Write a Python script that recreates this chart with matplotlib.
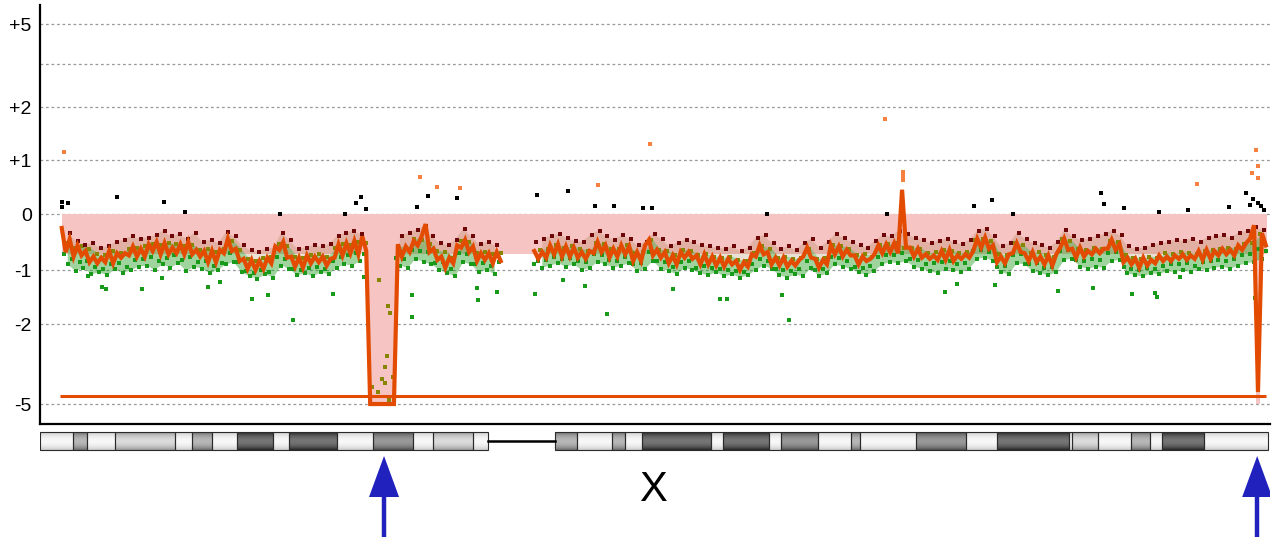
import numpy as np
import matplotlib
matplotlib.use('Agg')
import matplotlib.pyplot as plt
from matplotlib.patches import Rectangle

plt.rcParams['font.family'] = ['Liberation Sans', 'DejaVu Sans']
nan = np.nan

# chromosome X, positions in Mb
chrom_len = 155.27
view_end = 155.52

# smoothed log-ratio trace in 0.5 Mb bins, p arm and q arm
bin_mb = 0.5
p_start = 2.75
p_trace = [-0.25, -0.68, -0.45,
           -0.76, -0.56, -0.74, -0.66, -0.86,
           -0.76, -0.88, -0.78, -0.86,
           -0.66, -0.88, -0.70, -0.78, -0.70,
           -0.74, -0.58, -0.76, -0.62,
           -0.76, -0.54,
           -0.66, -0.50, -0.72, -0.52, -0.72, -0.60,
           -0.70, -0.54, -0.72, -0.50, -0.72,
           -0.64, -0.76, -0.66,
           -0.86, -0.66, -0.86, -0.64,
           -0.70, -0.44, -0.66,
           -0.62, -0.84,
           -0.80, -0.98, -0.82, -1.00, -0.84, -0.98, -0.78,
           -0.88,
           -0.58, -0.64, -0.50, -0.78,
           -0.76, -0.94, -0.78, -0.96, -0.74,
           -0.88, -0.76, -0.86, -0.76, -0.92,
           -0.80,
           -0.78, -0.54, -0.74, -0.52, -0.70,
           -0.48, -0.72, -0.40, -0.66,
           -5.0, -5.0, -5.0, -5.0, -5.0, -5.0, -5.0,
           -0.54, -0.76, -0.58, -0.68,
           -0.48, -0.56, -0.40, -0.18, -0.68,
           -0.62, -0.82,
           -0.76, -0.96, -0.78, -0.88,
           -0.56, -0.60, -0.46, -0.68, -0.58,
           -0.84, -0.70, -0.82, -0.70, -0.88, -0.68, -0.84]
q_start = 62.5
q_trace = [-0.66, -0.80, -0.68, -0.78,
           -0.56, -0.72, -0.54,
           -0.76, -0.58, -0.76, -0.60, -0.78,
           -0.68, -0.80, -0.66,
           -0.70, -0.50, -0.68, -0.56,
           -0.78, -0.62, -0.76,
           -0.56, -0.72, -0.58,
           -0.84, -0.68, -0.84,
           -0.56, -0.46,
           -0.74, -0.64, -0.78, -0.68,
           -0.88, -0.74, -0.90,
           -0.68, -0.78, -0.68, -0.80,
           -0.74, -0.90, -0.72, -0.90, -0.76,
           -0.92, -0.78, -0.94, -0.80, -0.90,
           -0.84, -1.00, -0.86, -0.94,
           -0.72,
           -0.76, -0.56, -0.72, -0.68,
           -0.90, -0.78, -0.92, -0.78, -0.94,
           -0.84, -0.92, -0.82,
           -0.76, -0.60, -0.78,
           -0.80, -0.96, -0.82, -0.90,
           -0.56, -0.72, -0.58,
           -0.76, -0.64, -0.74,
           -0.74, -0.90, -0.76, -0.84, -0.80,
           -0.72, -0.56, -0.70, -0.54,
           -0.68, -0.52, -0.70,
           0.45, -0.60,
           -0.60, -0.76, -0.62, -0.78,
           -0.72, -0.80, -0.74, -0.82,
           -0.66, -0.82, -0.64,
           -0.84, -0.74, -0.80, -0.72, -0.78,
           -0.66, -0.44, -0.60, -0.42, -0.62, -0.56,
           -0.86, -0.76, -0.88, -0.72,
           -0.70, -0.52, -0.68,
           -0.70, -0.84, -0.68, -0.86,
           -0.76, -0.90, -0.74, -0.92, -0.72,
           -0.60, -0.44, -0.64,
           -0.62, -0.78, -0.60, -0.76, -0.66,
           -0.72, -0.62, -0.70, -0.62,
           -0.62, -0.46, -0.64, -0.54,
           -0.86, -0.78,
           -0.90, -0.80, -0.96, -0.78, -0.92, -0.82, -0.88,
           -0.74, -0.84, -0.76, -0.84, -0.74,
           -0.80, -0.72, -0.82, -0.74, -0.80,
           -0.66, -0.82, -0.64, -0.80, -0.66,
           -0.74, -0.62, -0.72, -0.64, -0.74,
           -0.56, -0.64, -0.52, -0.44,
           -0.20,
           -4.55,
           -0.34, -0.56]

# called segments (pink area between 0 and segment value)
seg_start = [2.75, 41.5, 45.0, 153.75, 154.25]
seg_end = [41.5, 45.0, 153.75, 154.25, 155.1]
seg_value = [-0.71, -5.0, -0.71, -5.0, -0.71]
threshold = -4.7

# probe values on a 1 Mb grid (3..155 Mb), four probe groups offset inside each Mb
grid_first = 3
green_a = [-0.72, -0.80, -0.86, -0.84, -0.95, -0.98, -0.90, -0.88, -0.94, -0.82,
           -0.80, -0.76, -0.84, -0.78, -0.74, -0.82, -0.76, -0.86, -0.84, -0.92,
           -0.88, -0.70, -0.86, -1.02, -1.05, -1.00, -1.04, -0.76, -0.80, -0.98,
           -1.00, -0.96, -0.94, -0.98, -0.84, -0.76, -0.74, -0.70, -0.72, nan,
           nan, nan, -0.78, -0.80, -0.64, -0.66, -0.68, -0.88, -0.86, -0.98,
           -0.70, -0.72, -0.90, -0.88, -0.92, -0.86, nan, nan, nan, nan,
           -0.84, -0.82, -0.76, -0.80, -0.78, -0.84, -0.86, -0.72, -0.74, -0.82,
           -0.84, -0.76, -0.90, -0.88, -0.68, -0.84, -0.86, -0.94, -0.86, -0.84,
           -0.96, -0.92, -0.96, -0.98, -1.00, -1.02, -1.04, -0.90, -0.80, -0.84,
           -0.98, -1.00, -1.02, -0.98, -0.84, -1.00, -0.98, -0.76, -0.78, -0.84,
           -0.94, -0.96, -0.92, -0.76, -0.74, -0.74, -0.70, -0.80, -0.82, -0.90,
           -0.88, -0.86, -0.84, -0.90, -0.88, -0.66, -0.64, -0.68, -0.94, -0.92,
           -0.74, -0.72, -0.90, -0.88, -0.96, -0.94, -0.66, -0.64, -0.82, -0.84,
           -0.80, -0.82, -0.70, -0.68, -0.94, -0.98, -1.00, -0.96, -0.98, -0.92,
           -0.90, -0.90, -0.88, -0.92, -0.86, -0.84, -0.82, -0.84, -0.80, -0.74,
           -0.72, -0.62, -0.66]
green_b = [-0.90, -1.02, -0.96, -1.08, -1.04, -1.10, -0.98, -1.06, -1.00, -0.94,
           -0.92, -1.00, -0.90, -0.96, -0.88, -1.02, -0.94, -0.98, -1.06, -1.00,
           -0.90, -0.86, -1.04, -1.12, -1.16, -1.08, -1.14, -0.92, -0.98, -1.10,
           -1.06, -1.12, -1.04, -1.08, -0.96, -0.90, -0.92, -0.84, nan, nan,
           nan, nan, -0.92, -0.96, -0.80, -0.86, -0.90, -1.00, -1.06, -1.12,
           -0.86, -0.90, -1.04, -1.00, -1.08, nan, nan, nan, nan, -0.90,
           -0.96, -0.92, -0.88, -0.94, -0.90, -1.00, -0.96, -0.86, -0.90, -0.96,
           -0.92, -0.88, -1.02, -0.98, -0.84, -0.98, -1.02, -1.08, -0.96, -1.00,
           -1.06, -1.10, -1.04, -1.12, -1.08, -1.14, -1.10, -1.00, -0.92, -0.98,
           -1.10, -1.14, -1.08, -1.12, -0.96, -1.12, -1.06, -0.90, -0.94, -0.98,
           -1.04, -1.10, -1.02, -0.90, -0.86, -0.88, -0.84, -0.94, -0.98, -1.02,
           -1.06, -0.98, -1.00, -1.04, -0.98, -0.80, -0.78, -0.84, -1.04, -1.08,
           -0.88, -0.90, -1.02, -1.06, -1.10, -1.04, -0.82, -0.80, -0.94, -0.98,
           -0.94, -0.96, -0.84, -0.82, -1.06, -1.10, -1.12, -1.06, -1.08, -1.02,
           -1.04, -1.00, -1.04, -0.98, -1.00, -0.96, -0.94, -0.98, -0.92, -0.88,
           -0.86, -0.80, nan]
olive = [-0.52, -0.60, -0.58, -0.62, -0.72, -0.74, -0.66, -0.70, -0.62, -0.60,
         -0.58, -0.54, -0.56, -0.52, -0.54, -0.58, -0.56, -0.64, -0.62, -0.68,
         -0.62, -0.48, -0.64, -0.80, -0.84, -0.78, -0.76, -0.54, -0.58, -0.76,
         -0.78, -0.74, -0.72, -0.76, -0.60, -0.54, -0.56, -0.50, -0.52, nan,
         nan, nan, -0.58, -0.60, -0.44, -0.46, -0.54, -0.66, -0.68, -0.78,
         -0.48, -0.50, -0.70, -0.68, -0.72, -0.70, nan, nan, nan, nan,
         -0.64, -0.62, -0.56, -0.60, -0.58, -0.62, -0.66, -0.52, -0.54, -0.62,
         -0.62, -0.56, -0.70, -0.68, -0.46, -0.64, -0.66, -0.74, -0.64, -0.66,
         -0.74, -0.72, -0.76, -0.78, -0.76, -0.82, -0.84, -0.70, -0.58, -0.62,
         -0.78, -0.76, -0.80, -0.78, -0.62, -0.80, -0.78, -0.56, -0.58, -0.62,
         -0.74, -0.72, -0.76, -0.56, -0.54, -0.52, -0.60, -0.60, -0.62, -0.70,
         -0.68, -0.64, -0.66, -0.70, -0.68, -0.46, -0.44, -0.48, -0.72, -0.74,
         -0.52, -0.56, -0.70, -0.68, -0.74, -0.76, -0.44, -0.48, -0.62, -0.64,
         -0.60, -0.62, -0.48, -0.50, -0.74, -0.78, -0.80, -0.76, -0.78, -0.70,
         -0.72, -0.68, -0.70, -0.72, -0.66, -0.64, -0.62, -0.60, -0.62, -0.54,
         -0.52, -0.36, nan]
maroon = [-0.34, -0.48, -0.56, -0.52, -0.60, -0.58, -0.50, -0.46, -0.40, -0.44,
          -0.42, -0.38, -0.30, -0.40, -0.36, -0.44, -0.34, -0.50, -0.46, -0.52,
          -0.32, -0.40, -0.56, -0.64, -0.68, -0.62, -0.60, -0.34, -0.46, -0.62,
          -0.60, -0.56, -0.58, -0.54, -0.40, -0.34, -0.30, -0.36, nan, nan,
          nan, nan, -0.40, -0.34, -0.28, -0.22, -0.40, -0.52, -0.56, -0.46,
          -0.26, -0.40, -0.54, -0.50, -0.56, nan, nan, nan, nan, -0.50,
          -0.44, -0.40, -0.36, -0.42, -0.48, -0.50, -0.38, -0.30, -0.40, -0.46,
          -0.38, -0.44, -0.56, -0.50, -0.36, -0.44, -0.58, -0.52, -0.46, -0.50,
          -0.56, -0.58, -0.60, -0.62, -0.58, -0.66, -0.60, -0.42, -0.38, -0.52,
          -0.62, -0.58, -0.64, -0.52, -0.44, -0.60, -0.50, -0.36, -0.42, -0.50,
          -0.56, -0.60, -0.48, -0.38, -0.40, -0.30, -0.36, -0.42, -0.46, -0.52,
          -0.48, -0.44, -0.50, -0.54, -0.46, -0.30, -0.26, -0.40, -0.58, -0.52,
          -0.34, -0.44, -0.52, -0.56, -0.60, -0.50, -0.28, -0.40, -0.46, -0.44,
          -0.40, -0.36, -0.30, -0.38, -0.58, -0.62, -0.60, -0.56, -0.52, -0.50,
          -0.46, -0.48, -0.44, -0.50, -0.42, -0.40, -0.38, -0.42, -0.34, -0.30,
          -0.24, -0.28, nan]

# single probes off the main cloud
green_out_x = [6.07, 7.84, 8.34, 12.9, 15.4, 21.2, 22.8, 26.8, 28.8, 32.0, 37.0, 41.0,
               47.0, 47.0, 55.3, 55.4, 57.8, 62.6, 66.1, 68.9, 71.7, 80.0, 86.0, 86.9,
               93.8, 94.7, 114.4, 116.0, 120.7, 128.7, 133.1, 138.1, 141.0, 141.2, 144.1, 153.6]
green_out_y = [-1.11, -1.31, -1.35, -1.35, -1.15, -1.31, -1.22, -1.54, -1.46, -1.93, -1.44, -1.13,
               -1.87, -1.46, -1.33, -1.56, -1.41, -1.44, -1.19, -1.30, -1.81, -1.35, -1.54, -1.53,
               -1.46, -1.93, -1.41, -1.26, -1.28, -1.39, -1.33, -1.44, -1.43, -1.50, -1.13, -1.51]
olive_del_x = [42.9, 44.0, 44.25, 43.87, 43.6, 44.63, 43.24, 43.62, 42.74, 44.1, 41.98]
olive_del_y = [-1.19, -1.67, -1.80, -3.2, -3.6, -4.0, -4.06, -4.2, -4.54, -4.85, -4.35]
black_x = [2.78, 2.78, 3.54, 9.74, 15.68, 18.33, 30.35, 38.56, 39.96, 40.59, 41.22, 47.67,
           49.06, 52.73, 62.84, 66.76, 70.17, 72.58, 76.25, 77.38, 91.92, 107.09, 118.10,
           120.37, 123.03, 134.16, 134.54, 137.06, 141.49, 145.16, 150.34, 152.49, 153.0,
           153.38, 154.01, 154.39, 154.77]
black_y = [0.22, 0.13, 0.20, 0.31, 0.22, 0.04, 0.0, 0.0, 0.20, 0.31, 0.09, 0.13,
           0.33, 0.30, 0.35, 0.43, 0.15, 0.15, 0.11, 0.11, 0.0, 0.0, 0.15,
           0.26, 0.0, 0.39, 0.19, 0.11, 0.04, 0.07, 0.13, 0.39, 0.17,
           0.28, 0.20, 0.15, 0.07]
high_x = [3.03, 48.0, 50.2, 53.1, 70.5, 77.1, 106.8, 109.1, 109.1, 109.1, 146.3, 153.2, 153.75, 154.0, 154.0]
high_y = [1.15, 0.68, 0.50, 0.48, 0.54, 1.30, 1.77, 0.78, 0.70, 0.63, 0.56, 0.76, 1.19, 0.89, 0.67]

# y axis labels
ytick_vals = [5, 3, 2, 1, 0, -1, -2, -5]
ytick_labels = ['+5', '', '+2', '+1', '0', '-1', '-2', '-5']

# ideogram bands (Mb)
band_start = [0, 4.13, 5.98, 9.48, 17.07, 19.18, 21.71, 24.87, 29.42, 31.52, 37.59, 42.14, 47.20, 49.73, 54.79,
              65.12, 67.9, 72.3, 74.0, 76.1, 84.8, 86.4, 92.2, 93.7, 98.4, 102.5, 103.7, 110.8, 117.1,
              121.0, 130.1, 130.5, 133.8, 137.9, 140.3, 141.9, 147.2]
band_end = band_start[1:15] + [56.64] + band_start[16:] + [chrom_len]
band_stain = ['gneg', 'gpos50', 'gneg', 'gpos25', 'gneg', 'gpos50', 'gneg', 'gpos100', 'gneg', 'gpos100',
              'gneg', 'gpos75', 'gneg', 'gpos25', 'gneg',
              'gpos50', 'gneg', 'gpos50', 'gneg', 'gpos100', 'gneg', 'gpos100', 'gneg', 'gpos75', 'gneg',
              'gpos50', 'gneg', 'gpos75', 'gneg', 'gpos100', 'gneg', 'gpos25', 'gneg', 'gpos50', 'gneg',
              'gpos100', 'gneg']
arrow_pos = [43.5, 153.9]
chrom_name = 'X'

# ---- non-linear y scale of the viewer
scale_v = [-6, -5, -2, -1, 0, 1, 2, 3, 5, 6]
scale_p = [-431, -404, -324, -270, -214, -160, -107, -64, -24, -4]


def fwd(v):
    return np.interp(v, scale_v, scale_p)


def inv(p):
    return np.interp(p, scale_p, scale_v)


W, H = 1273, 537
fig = plt.figure(figsize=(W / 100, H / 100), dpi=100)
ax = fig.add_axes([40 / W, (H - 424) / H, 1230 / W, 419 / H])
ax.set_yscale('function', functions=(fwd, inv))

pink = '#f5c4c3'
orange = '#e34b00'
green = '#1a9a1a'

xs, ys = [], []
for s, e, v in zip(seg_start, seg_end, seg_value):
    xs += [s, e]
    ys += [v, v]
ax.fill_between(xs, 0, ys, color=pink, lw=0, zorder=1)

grid = grid_first + np.arange(len(green_a))
# spread of the probe cloud around the trace
ax.fill_between(grid + 0.5, green_b, olive, color=green, alpha=0.42, lw=0, zorder=1.5)
ax.fill_between(grid + 0.5, olive, maroon, color='#7a4a00', alpha=0.16, lw=0, zorder=1.5)

dot = dict(marker='s', s=5, linewidths=0, zorder=2)
ax.scatter(grid + 0.5, green_b, color=green, **dot)
ax.scatter(grid, green_a, color=green, **dot)
ax.scatter(green_out_x, green_out_y, color=green, **dot)
ax.scatter(grid + 0.25, olive, color='#868600', **dot)
ax.scatter(olive_del_x, olive_del_y, color='#868600', **dot)
ax.scatter(grid + 0.75, maroon, color='#6e0808', **dot)

px = p_start + bin_mb * np.arange(len(p_trace))
qx = q_start + bin_mb * np.arange(len(q_trace))
ax.plot(px, p_trace, color=orange, lw=3.0, zorder=3, solid_joinstyle='miter')
ax.plot(qx, q_trace, color=orange, lw=3.0, zorder=3, solid_joinstyle='miter')
ax.hlines(threshold, px[0] - 0.2, qx[-1], color=orange, lw=2.2, zorder=3)

ax.scatter(black_x, black_y, color='black', marker='s', s=5, linewidths=0, zorder=4)
ax.scatter(high_x, high_y, color='#f58040', marker='s', s=5, linewidths=0, zorder=4)

ax.set_xlim(0, view_end)
ax.set_ylim(-5.74, 5.95)
ax.set_yticks(ytick_vals)
ax.set_yticklabels(ytick_labels, fontsize=14)
ax.set_xticks([])
ax.tick_params(axis='y', length=0, pad=6)
ax.grid(axis='y', color='#999999', lw=0.9, ls=(0, (2.2, 2.2)), zorder=0.5)
ax.set_axisbelow(True)
for side in ['top', 'right']:
    ax.spines[side].set_visible(False)
for side in ['left', 'bottom']:
    ax.spines[side].set_linewidth(1.6)
ax.set_facecolor('white')

# ---- ideogram, arrows and chromosome name
ax2 = fig.add_axes([40 / W, 0, 1230 / W, 111 / H])
ax2.set_axis_off()
shade = {'gneg': (0.97, 0.80), 'gpos25': (0.86, 0.60), 'gpos50': (0.72, 0.44),
         'gpos75': (0.60, 0.32), 'gpos100': (0.46, 0.16)}
t = np.linspace(-1, 1, 40)[:, None]
top, bot = 432, 450
for s, e, st in zip(band_start, band_end, band_stain):
    c, ed = shade[st]
    col = ed + (c - ed) * (1 - t ** 2)
    ax2.imshow(col, cmap='gray', vmin=0, vmax=1, extent=(s, e, bot, top),
               aspect='auto', interpolation='bilinear', zorder=1)
    ax2.add_patch(Rectangle((s, top), e - s, bot - top, fill=False, ec='#2a2a2a', lw=0.8, zorder=2))
ax2.plot([band_end[14], band_start[15]], [441, 441], color='black', lw=1.8, zorder=2)

head_w = 1.9
for a in arrow_pos:
    ax2.fill([a - head_w, a + head_w, a], [497, 497, 456], color='#2121bd', lw=0, zorder=3)
    ax2.vlines(a, 496, 537, color='#2121bd', lw=3.2, zorder=3)

ax2.text(77.5, 490, chrom_name, fontsize=30, ha='center', va='center')
ax2.set_xlim(0, view_end)
ax2.set_ylim(537, 426)

fig.savefig('out.png', dpi=100)
